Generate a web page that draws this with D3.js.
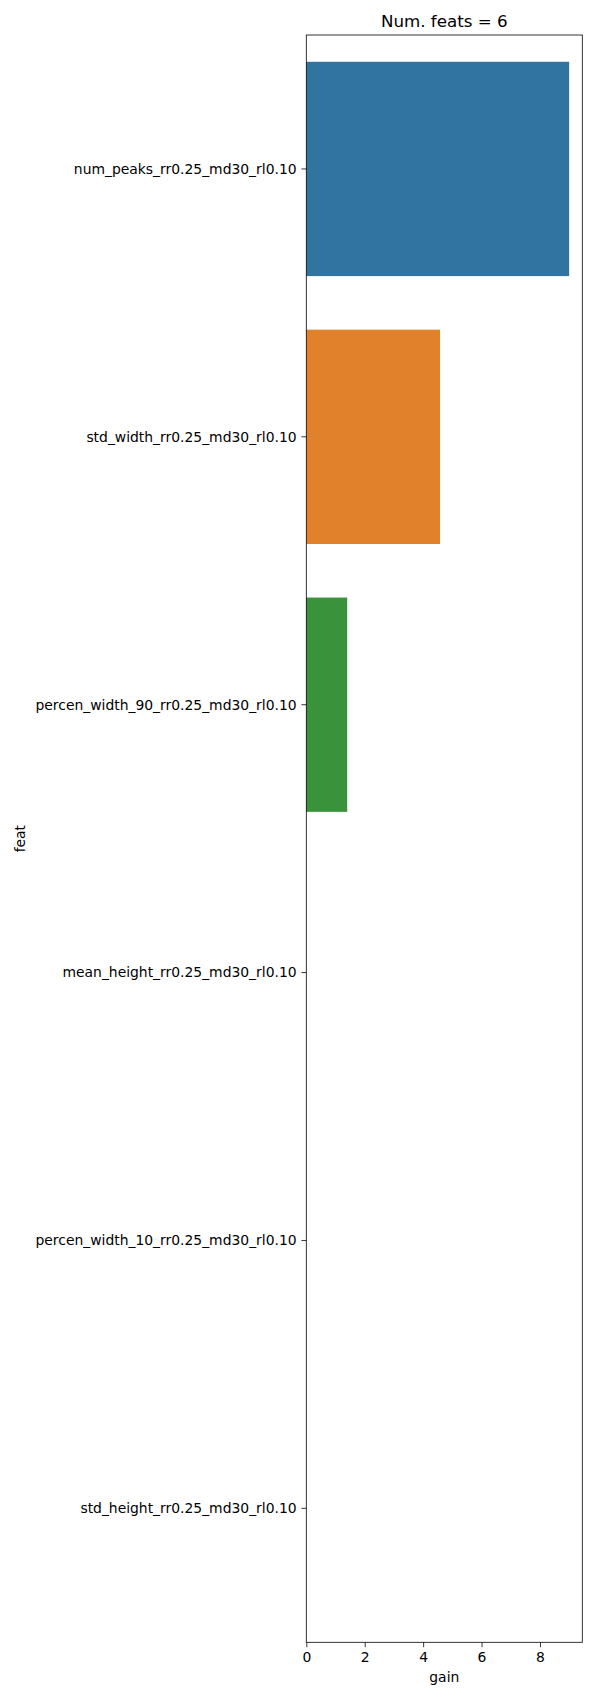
<!DOCTYPE html>
<html><head><meta charset="utf-8">
<script src="https://cdn.jsdelivr.net/npm/d3@7"></script>
<style>body{margin:0;background:#fff;} svg{display:block;} text{font-family:"DejaVu Sans",sans-serif;fill:#000;}</style>
</head><body>
<script>
const features = ["num_peaks_rr0.25_md30_rl0.10","std_width_rr0.25_md30_rl0.10","percen_width_90_rr0.25_md30_rl0.10","mean_height_rr0.25_md30_rl0.10","percen_width_10_rr0.25_md30_rl0.10","std_height_rr0.25_md30_rl0.10"];
const gains = [9.0, 4.58, 1.40, 0, 0, 0];
const colors = ["#3274a1","#e1812c","#3a923a","#c03d3e","#9372b2","#845b53"];
const xTicks = [0,2,4,6,8];
const titleText = "Num. feats = 6";

const W=600,H=1700;
const L=306.3,R=582.3,T=35,B=1642.3;
const svg=d3.select("body").append("svg").attr("width",W).attr("height",H);
const x=d3.scaleLinear().domain([0,d3.max(gains)*1.05]).range([L,R]);
const y=d3.scaleBand().domain(features).range([T,B]).paddingInner(0.2).paddingOuter(0.1);

svg.selectAll("rect.bar").data(features).enter().append("rect")
  .attr("x",x(0)).attr("y",d=>y(d))
  .attr("width",(d,i)=>x(gains[i])-x(0)).attr("height",y.bandwidth())
  .attr("fill",(d,i)=>colors[i]);

const yAxis=svg.append("g").attr("transform",`translate(${L},0)`)
  .call(d3.axisLeft(y).tickSize(4.86).tickPadding(4.86));
const xAxis=svg.append("g").attr("transform",`translate(0,${B})`)
  .call(d3.axisBottom(x).tickValues(xTicks).tickFormat(d3.format("d")).tickSize(4.86).tickPadding(4.86));
[yAxis,xAxis].forEach(a=>{a.select(".domain").remove();a.selectAll("line").attr("stroke","#000").attr("stroke-width",0.8);a.selectAll("text").attr("font-size","13.9px").attr("font-family","DejaVu Sans");});
yAxis.selectAll("text").attr("dy","0.35em");
xAxis.selectAll("text").attr("dy","0.71em");

svg.append("rect").attr("x",L).attr("y",T).attr("width",R-L).attr("height",B-T)
  .attr("fill","none").attr("stroke","#000").attr("stroke-width",0.8);

svg.append("text").attr("x",(L+R)/2).attr("y",T-8).attr("text-anchor","middle").attr("font-size","16.7px").text(titleText);
svg.append("text").attr("x",(L+R)/2).attr("y",1682).attr("text-anchor","middle").attr("font-size","13.9px").text("gain");
svg.append("text").attr("transform",`translate(25,${(T+B)/2}) rotate(-90)`).attr("text-anchor","middle").attr("font-size","13.9px").text("feat");
</script>
</body></html>
